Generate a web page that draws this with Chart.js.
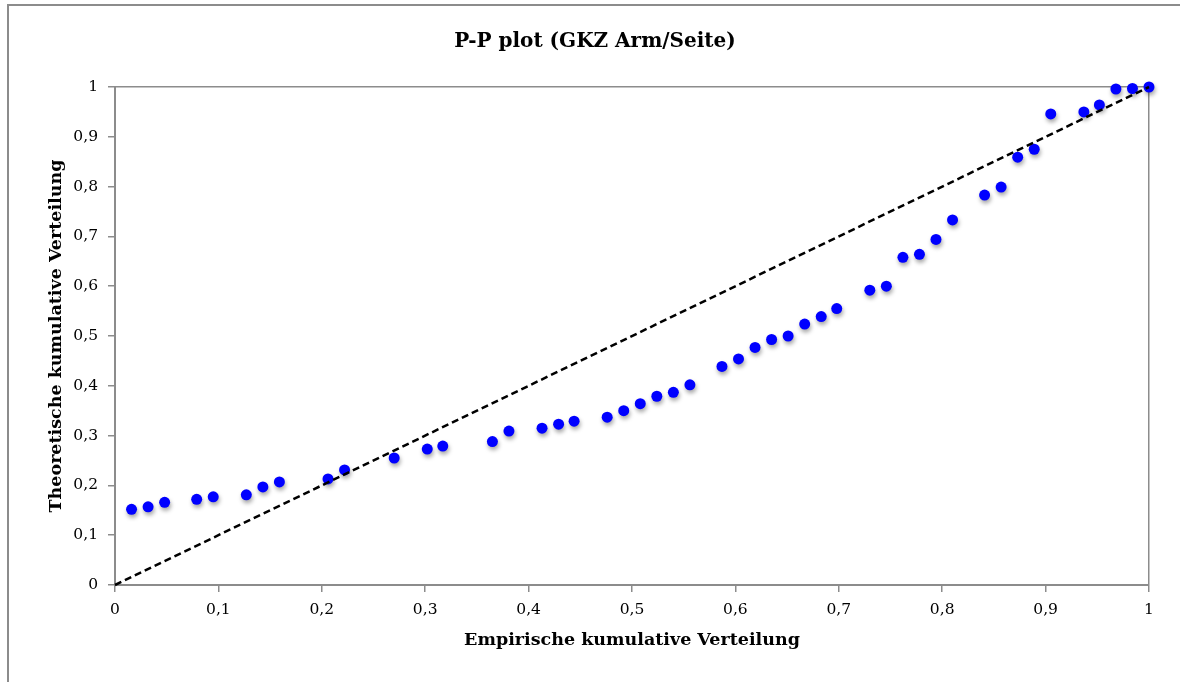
<!DOCTYPE html>
<html>
<head>
<meta charset="utf-8">
<script src="https://cdn.jsdelivr.net/npm/chart.js@4"></script>
<style>
  html, body { margin: 0; padding: 0; background: #fff; overflow: hidden; }
</style>
</head>
<body>
<canvas id="ppChart" width="1180" height="682"></canvas>
<script>
// Empirische vs. theoretische kumulative Verteilung
var empirisch = [0.016, 0.032, 0.048, 0.079, 0.095, 0.127, 0.143, 0.159, 0.206, 0.222,
    0.270, 0.302, 0.317, 0.365, 0.381, 0.413, 0.429, 0.444, 0.476, 0.492,
    0.508, 0.524, 0.540, 0.556, 0.587, 0.603, 0.619, 0.635, 0.651, 0.667,
    0.683, 0.698, 0.730, 0.746, 0.762, 0.778, 0.794, 0.810, 0.841, 0.857,
    0.873, 0.889, 0.905, 0.937, 0.952, 0.968, 0.984, 1.000];
var theoretisch = [0.152, 0.157, 0.166, 0.172, 0.177, 0.181, 0.197, 0.207, 0.213, 0.231,
    0.255, 0.273, 0.279, 0.288, 0.309, 0.315, 0.323, 0.329, 0.337, 0.350,
    0.364, 0.379, 0.387, 0.402, 0.439, 0.454, 0.477, 0.493, 0.500, 0.524,
    0.539, 0.555, 0.592, 0.600, 0.658, 0.664, 0.694, 0.733, 0.783, 0.799,
    0.859, 0.875, 0.946, 0.950, 0.964, 0.996, 0.997, 1.000];
// Referenzlinie (Diagonale)
var diagonaleX = [0, 1];
var diagonaleY = [0, 1];
var achsenMin = 0;
var achsenMax = 1;
var achsenSchritt = 0.1;
var titel = 'P-P plot (GKZ Arm/Seite)';

var punkte = empirisch.map(function (x, i) { return { x: x, y: theoretisch[i] }; });
var diagonale = diagonaleX.map(function (x, i) { return { x: x, y: diagonaleY[i] }; });

var grau = '#8c8c8c';
var serif = "'DejaVu Serif', 'Liberation Serif', serif";

// Rahmen und Titel
var rahmenPlugin = {
    id: 'rahmen',
    beforeDraw: function (chart) {
        var c = chart.ctx;
        c.save();
        c.strokeStyle = grau;
        c.lineWidth = 2;
        c.beginPath();
        c.moveTo(8, chart.height + 2);
        c.lineTo(8, 5);
        c.lineTo(chart.width + 2, 5);
        c.stroke();
        c.restore();
    },
    afterDraw: function (chart) {
        var c = chart.ctx;
        c.save();
        c.fillStyle = '#000';
        c.font = 'bold 20px ' + serif;
        c.textAlign = 'center';
        c.textBaseline = 'middle';
        c.fillText(titel, 595, 42);
        c.restore();
    }
};

// Schatten unter den Punkten
var schattenPlugin = {
    id: 'schatten',
    beforeDatasetDraw: function (chart, args) {
        if (args.index !== 1) return;
        var c = chart.ctx;
        c.save();
        c.shadowColor = 'rgba(0,0,0,0.35)';
        c.shadowBlur = 4;
        c.shadowOffsetX = 1;
        c.shadowOffsetY = 3;
    },
    afterDatasetDraw: function (chart, args) {
        if (args.index !== 1) return;
        chart.ctx.restore();
    }
};

function tickText(value) {
    return String(Math.round(value * 10) / 10).replace('.', ',');
}

function randGitter(ctx) {
    return ctx.tick && Math.abs(ctx.tick.value - achsenMax) < 1e-9 ? grau : 'rgba(0,0,0,0)';
}

var ctx = document.getElementById('ppChart').getContext('2d');
var myChart = new Chart(ctx, {
    type: 'scatter',
    data: {
        datasets: [{
            type: 'line',
            label: 'Diagonale',
            data: diagonale,
            borderColor: '#000',
            borderWidth: 2.5,
            borderDash: [7, 4],
            pointRadius: 0,
            fill: false,
            clip: false
        }, {
            label: 'GKZ Arm/Seite',
            data: punkte,
            backgroundColor: '#0000ff',
            borderWidth: 0,
            pointRadius: 5.5,
            pointHoverRadius: 5.5,
            clip: false
        }]
    },
    options: {
        responsive: false,
        animation: false,
        layout: { padding: { left: 0, right: 31, top: 87, bottom: 0 } },
        plugins: {
            legend: { display: false },
            tooltip: { enabled: false },
            title: { display: false }
        },
        scales: {
            x: {
                type: 'linear',
                min: achsenMin,
                max: achsenMax,
                afterFit: function (scale) { scale.height = 97; },
                ticks: {
                    stepSize: achsenSchritt,
                    color: '#000',
                    font: { family: serif, size: 15.5 },
                    padding: 9,
                    maxRotation: 0,
                    callback: tickText
                },
                grid: { color: randGitter, tickColor: grau, tickLength: 7, lineWidth: 1.5 },
                border: { color: grau, width: 2 },
                title: {
                    display: true,
                    text: 'Empirische kumulative Verteilung',
                    color: '#000',
                    font: { family: serif, size: 17.5, weight: 'bold' },
                    padding: { top: 0, bottom: 31 }
                }
            },
            y: {
                type: 'linear',
                min: achsenMin,
                max: achsenMax,
                afterFit: function (scale) { scale.width = 115; },
                ticks: {
                    stepSize: achsenSchritt,
                    color: '#000',
                    font: { family: serif, size: 15.5 },
                    padding: 10,
                    callback: tickText
                },
                grid: { color: randGitter, tickColor: grau, tickLength: 7, lineWidth: 1.5 },
                border: { color: grau, width: 2 },
                title: {
                    display: true,
                    text: 'Theoretische kumulative Verteilung',
                    color: '#000',
                    font: { family: serif, size: 17.5, weight: 'bold' },
                    padding: { top: 46, bottom: 0 }
                }
            }
        }
    },
    plugins: [rahmenPlugin, schattenPlugin]
});
</script>
</body>
</html>
